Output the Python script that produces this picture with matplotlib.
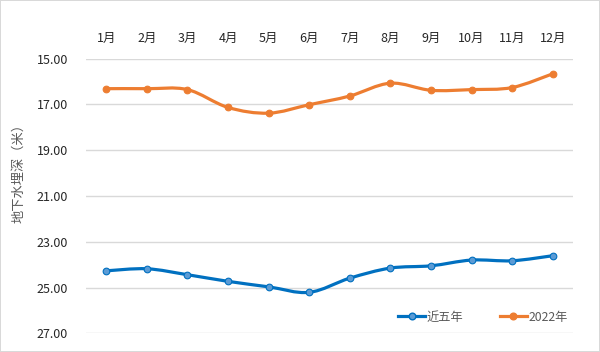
import numpy as np
import matplotlib
matplotlib.use("Agg")
import matplotlib.pyplot as plt
from matplotlib.path import Path
from matplotlib.patches import PathPatch
from matplotlib.lines import Line2D

plt.rcParams['font.family'] = ['Noto Sans CJK SC', 'DejaVu Sans']

# --- 数据 ---
months = ["1月", "2月", "3月", "4月", "5月", "6月", "7月", "8月", "9月", "10月", "11月", "12月"]
five_year = [24.27, 24.18, 24.44, 24.73, 24.97, 25.21, 24.59, 24.15, 24.05, 23.80, 23.83, 23.61]
y2022 = [16.31, 16.31, 16.35, 17.13, 17.38, 17.01, 16.63, 16.07, 16.38, 16.35, 16.26, 15.66]
series_names = ["近五年", "2022年"]
yticks = [15, 17, 19, 21, 23, 25, 27]

blue, blue_fill = "#0070C0", "#5B9BD5"
orange = "#ED7D31"


def smooth_path(xs, ys):
    """Excel 风格的平滑曲线 (Catmull-Rom -> Bezier)"""
    pts = np.column_stack([xs, ys])
    ext = np.vstack([pts[0], pts, pts[-1]])
    verts, codes = [pts[0]], [Path.MOVETO]
    for i in range(len(pts) - 1):
        p0, p1, p2, p3 = ext[i], ext[i + 1], ext[i + 2], ext[i + 3]
        verts += [p1 + (p2 - p0) / 6, p2 - (p3 - p1) / 6, p2]
        codes += [Path.CURVE4] * 3
    return Path(verts, codes)


fig = plt.figure(figsize=(6.0, 3.52), dpi=100)
fig.patch.set_edgecolor('#d9d9d9')
fig.patch.set_linewidth(1.2)
ax = fig.add_axes([86 / 600, 1 - 333.3 / 352, 487 / 600, (333.3 - 58.7) / 352])

x = np.arange(len(months))
for vals, lc, mfc in [(five_year, blue, blue_fill), (y2022, orange, orange)]:
    ax.add_patch(PathPatch(smooth_path(x, vals), facecolor='none', edgecolor=lc,
                           linewidth=2.3, capstyle='round', zorder=3))
    ax.plot(x, vals, linestyle='none', marker='o', markersize=4.8,
            markerfacecolor=mfc, markeredgecolor=lc, markeredgewidth=0.8, zorder=4)

ax.set_xlim(-0.5, len(months) - 0.5)
ax.set_ylim(27, 15)
ax.set_yticks(yticks)
ax.set_yticklabels([f"{v:.2f}" for v in yticks])
ax.set_xticks(x)
ax.set_xticklabels(months)
ax.xaxis.tick_top()
ax.tick_params(axis='x', length=0, pad=10, labelsize=9, labelcolor='#262626')
ax.tick_params(axis='y', length=0, pad=13, labelsize=9, labelcolor='#262626')
ax.grid(axis='y', color='#d9d9d9', linewidth=1)
ax.set_axisbelow(True)
for sp in ax.spines.values():
    sp.set_visible(False)

fig.text(19 / 600, 1 - 170 / 352, "地下水埋深（米）", rotation=90, ha='center', va='center',
         fontsize=9.5, color='#595959')

handles = [Line2D([], [], color=blue, linewidth=2.3, marker='o', markersize=4.8,
                  markerfacecolor=blue_fill, markeredgecolor=blue),
           Line2D([], [], color=orange, linewidth=2.3, marker='o', markersize=4.8,
                  markerfacecolor=orange, markeredgecolor=orange)]
ax.legend(handles, series_names, loc='center',
          bbox_to_anchor=(483 / 600, 1 - 317 / 352), bbox_transform=fig.transFigure,
          frameon=False, ncol=2, fontsize=8.8, labelcolor='#595959',
          handlelength=2.2, handletextpad=0.1, columnspacing=3.0)

fig.savefig("out.png", dpi=100)
